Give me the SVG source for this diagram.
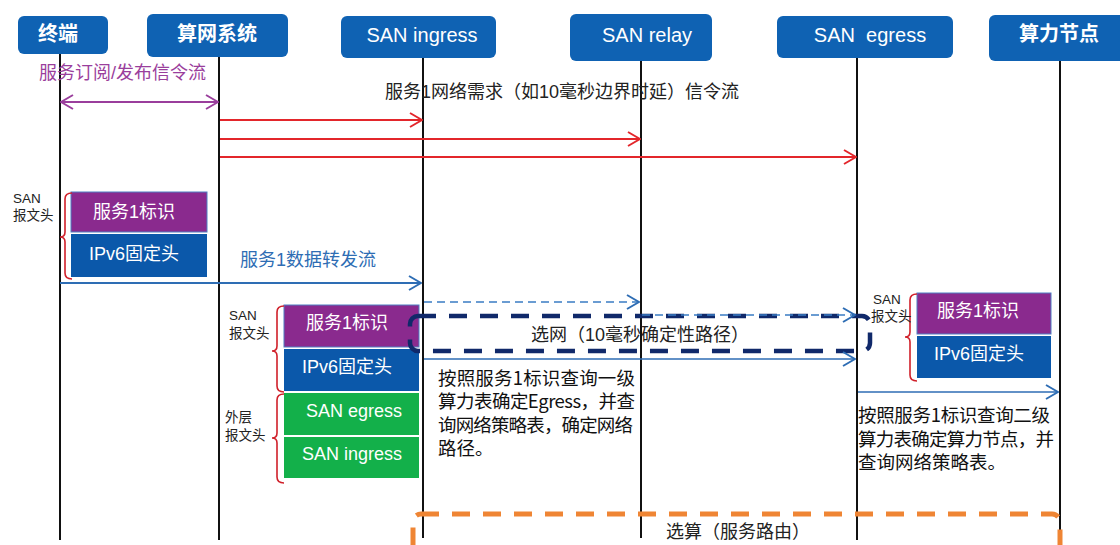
<svg xmlns="http://www.w3.org/2000/svg" width="1120" height="545" viewBox="0 0 1120 545">
  <style>
    text { font-family: "Liberation Sans", "Noto Sans CJK SC", sans-serif; }
    .hdr { fill: #0F62B3; }
    .hdr-t { fill: #ffffff; font-size: 20px; text-anchor: middle; dominant-baseline: central; }
    .hdr-cn { font-weight: bold; }
    .life { stroke: #111111; stroke-width: 2; fill: none; }
    .pk-t { fill: #ffffff; font-size: 18px; text-anchor: middle; dominant-baseline: central; }
    .purple { fill: #8A2A8E; stroke: #4E7EC2; stroke-width: 1; }
    .blue { fill: #0B58AA; }
    .green { fill: #13B04A; }
    .brace { stroke: #D0202A; stroke-width: 1.6; fill: none; }
    .small { fill: #222222; font-size: 13.5px; }
    .note { fill: #111111; font-size: 18.5px; font-family: "Noto Sans CJK SC", sans-serif; }
    .lbl { fill: #222222; font-size: 18px; dominant-baseline: central; }
  </style>
  <defs>
    <marker id="ah-red" viewBox="-13 -8 14 16" refX="0" refY="0" markerWidth="14" markerHeight="16" markerUnits="userSpaceOnUse" orient="auto-start-reverse">
      <path d="M-12,-7 L0,0 L-12,7" fill="none" stroke="#E3262B" stroke-width="2"/>
    </marker>
    <marker id="ah-purple" viewBox="-13 -8 14 16" refX="0" refY="0" markerWidth="14" markerHeight="16" markerUnits="userSpaceOnUse" orient="auto-start-reverse">
      <path d="M-12,-7 L0,0 L-12,7" fill="none" stroke="#9A3E9C" stroke-width="2"/>
    </marker>
    <marker id="ah-blue" viewBox="-13 -8 14 16" refX="0" refY="0" markerWidth="14" markerHeight="16" markerUnits="userSpaceOnUse" orient="auto">
      <path d="M-12,-7 L0,0 L-12,7" fill="none" stroke="#2E6DB4" stroke-width="2"/>
    </marker>
  </defs>

  <!-- lifelines -->
  <g id="lifelines">
    <line class="life" x1="60" y1="54" x2="60" y2="540"/>
    <line class="life" x1="219" y1="57" x2="219" y2="540"/>
    <line class="life" x1="423" y1="58" x2="423" y2="538"/>
    <line class="life" x1="641" y1="61" x2="641" y2="538"/>
    <line class="life" x1="857" y1="58" x2="857" y2="540"/>
    <line class="life" x1="1060" y1="61" x2="1060" y2="540"/>
  </g>

  <!-- participants -->
  <g id="node-terminal">
    <rect class="hdr" x="18" y="16" width="90" height="38" rx="6"/>
    <text class="hdr-t hdr-cn" x="58" y="34">终端</text>
  </g>
  <g id="node-orchestrator">
    <rect class="hdr" x="147" y="14" width="141" height="43" rx="6"/>
    <text class="hdr-t hdr-cn" x="217" y="34">算网系统</text>
  </g>
  <g id="node-ingress">
    <rect class="hdr" x="341" y="16" width="155" height="42" rx="6"/>
    <text class="hdr-t" x="422" y="35">SAN ingress</text>
  </g>
  <g id="node-relay">
    <rect class="hdr" x="570" y="14" width="142" height="47" rx="6"/>
    <text class="hdr-t" x="647" y="35">SAN relay</text>
  </g>
  <g id="node-egress">
    <rect class="hdr" x="777" y="16" width="176" height="42" rx="6"/>
    <text class="hdr-t" x="870" y="35" xml:space="preserve">SAN  egress</text>
  </g>
  <g id="node-compute">
    <rect class="hdr" x="989" y="15" width="140" height="46" rx="6"/>
    <text class="hdr-t hdr-cn" x="1059" y="34">算力节点</text>
  </g>

  <!-- packet header at the terminal -->
  <g id="pkt-terminal">
    <rect class="purple" x="71" y="192" width="136" height="40"/>
    <rect class="blue" x="71" y="234" width="136" height="43"/>
    <text class="pk-t" x="134" y="212">服务1标识</text>
    <text class="pk-t" x="134" y="254">IPv6固定头</text>
    <path class="brace" d="M72,193 Q65,193 65,199 L65,232 Q65,237 60,237 Q65,237 65,242 L65,273 Q65,279 72,279"/>
    <text class="small" x="13" y="203">SAN</text>
    <text class="small" x="13" y="220">报文头</text>
  </g>

  <!-- packet header at SAN ingress -->
  <g id="pkt-ingress">
    <rect class="purple" x="284" y="305" width="135" height="42"/>
    <rect class="blue" x="284" y="349" width="135" height="42"/>
    <rect class="green" x="284" y="393" width="135" height="42"/>
    <rect class="green" x="284" y="437" width="135" height="41"/>
    <text class="pk-t" x="347" y="323">服务1标识</text>
    <text class="pk-t" x="347" y="367">IPv6固定头</text>
    <text class="pk-t" x="354" y="411">SAN egress</text>
    <text class="pk-t" x="352" y="454">SAN ingress</text>
    <path class="brace" d="M284,306 Q277,306 277,312 L277,346 Q277,351 272,351 Q277,351 277,356 L277,386 Q277,392 284,392"/>
    <path class="brace" d="M284,394 Q277,394 277,400 L277,433 Q277,438 272,438 Q277,438 277,443 L277,477 Q277,483 284,483"/>
    <text class="small" x="229" y="320">SAN</text>
    <text class="small" x="229" y="338">报文头</text>
    <text class="small" x="225" y="422">外层</text>
    <text class="small" x="225" y="440">报文头</text>
  </g>

  <!-- packet header at SAN egress -->
  <g id="pkt-egress">
    <rect class="purple" x="917" y="293" width="134" height="41"/>
    <rect class="blue" x="917" y="336" width="134" height="42"/>
    <text class="pk-t" x="978" y="311">服务1标识</text>
    <text class="pk-t" x="979" y="354">IPv6固定头</text>
    <path class="brace" d="M917,294 Q910,294 910,300 L910,332 Q910,337 905,337 Q910,337 910,342 L910,375 Q910,381 917,381"/>
    <text class="small" x="873" y="304">SAN</text>
    <text class="small" x="871" y="321">报文头</text>
  </g>

  <!-- path selection regions -->
  <g id="net-select">
    <rect x="410" y="316" width="460" height="35" rx="8" fill="none" stroke="#10296A" stroke-width="4.5" stroke-dasharray="18 13"/>
    <text class="lbl" x="531" y="335" font-size="17.5">选网（10毫秒确定性路径）</text>
  </g>
  <g id="compute-select">
    <rect x="413" y="514" width="647" height="60" rx="8" fill="none" stroke="#EF8534" stroke-width="5" stroke-dasharray="18 13"/>
    <text class="lbl" x="666" y="532" font-size="17.5">选算（服务路由）</text>
  </g>

  <!-- messages -->
  <g id="connectors" fill="none">
    <line x1="61" y1="102" x2="218" y2="102" stroke="#9A3E9C" stroke-width="2" marker-start="url(#ah-purple)" marker-end="url(#ah-purple)"/>
    <line x1="220" y1="120" x2="422" y2="120" stroke="#E3262B" stroke-width="2" marker-end="url(#ah-red)"/>
    <line x1="220" y1="139" x2="640" y2="139" stroke="#E3262B" stroke-width="2" marker-end="url(#ah-red)"/>
    <line x1="220" y1="157" x2="856" y2="157" stroke="#E3262B" stroke-width="2" marker-end="url(#ah-red)"/>
    <line x1="60" y1="283" x2="421" y2="283" stroke="#2E6DB4" stroke-width="2" marker-end="url(#ah-blue)"/>
    <line x1="424" y1="302" x2="639" y2="302" stroke="#3A7CC4" stroke-width="1.6" stroke-dasharray="8 5" marker-end="url(#ah-blue)"/>
    <line x1="642" y1="315" x2="855" y2="315" stroke="#3A7CC4" stroke-width="1.6" stroke-dasharray="8 5" marker-end="url(#ah-blue)"/>
    <line x1="424" y1="359" x2="855" y2="359" stroke="#2E6DB4" stroke-width="1.6" marker-end="url(#ah-blue)"/>
    <line x1="858" y1="392" x2="1058" y2="392" stroke="#2E6DB4" stroke-width="1.6" marker-end="url(#ah-blue)"/>
  </g>

  <!-- message labels -->
  <g id="labels">
    <text x="39" y="73" font-size="18" fill="#9A3E9C" dominant-baseline="central">服务订阅/发布信令流</text>
    <text class="lbl" x="385" y="92">服务1网络需求（如10毫秒边界时延）信令流</text>
    <text x="240" y="260" font-size="18" fill="#2E6DB4" dominant-baseline="central">服务1数据转发流</text>
    <text class="note" x="438" y="385" textLength="197" lengthAdjust="spacing">按照服务1标识查询一级</text>
    <text class="note" x="438" y="408" textLength="197" lengthAdjust="spacing">算力表确定Egress，并查</text>
    <text class="note" x="438" y="432" textLength="195" lengthAdjust="spacing">询网络策略表，确定网络</text>
    <text class="note" x="438" y="455">路径。</text>
    <text class="note" x="858" y="422" textLength="192" lengthAdjust="spacing">按照服务1标识查询二级</text>
    <text class="note" x="858" y="446" textLength="196" lengthAdjust="spacing">算力表确定算力节点，并</text>
    <text class="note" x="858" y="469">查询网络策略表。</text>
  </g>
</svg>
